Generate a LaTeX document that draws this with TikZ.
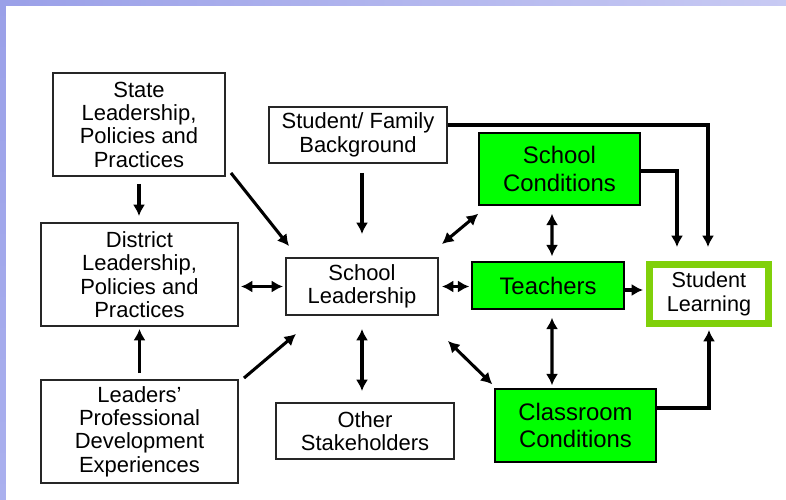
\documentclass[tikz,border=0pt]{standalone}
\usepackage{fontspec}
\setmainfont{Liberation Sans}
\usepackage{tikz}
\usetikzlibrary{arrows.meta,calc}

\definecolor{bandA}{RGB}{154,160,232}
\definecolor{bandB}{RGB}{200,202,243}
\definecolor{bandC}{RGB}{170,176,238}
\definecolor{boxgreen}{RGB}{0,255,0}
\definecolor{limeframe}{RGB}{128,208,10}

\tikzset{
  wbox/.style={draw=black!85, line width=1.1pt, fill=white, align=center, inner sep=0pt,
    font=\fontsize{12.5}{13.3}\selectfont},
  gbox/.style={draw=black, line width=0.8pt, fill=boxgreen, align=center, inner sep=0pt,
    font=\fontsize{13.6}{15.8}\selectfont},
  lbox/.style={draw=limeframe, line width=4pt, fill=white, align=center, inner sep=0pt,
    font=\fontsize{12.3}{13.9}\selectfont},
  link/.style={line width=1.75pt, black},
}

\begin{document}
\begin{tikzpicture}[scale=1.0, >={Latex[length=6.5pt,width=7pt]}]

  % 画布参数
  \def\W{15.72}
  \def\H{9.98}
  \def\band{0.12}
  \useasboundingbox (0,0) rectangle (\W,\H);

  % 边框色带
  \shade[left color=bandA, right color=bandB] (0,\H-\band) rectangle (\W,\H);
  \shade[top color=bandA, bottom color=bandC] (0,0) rectangle (\band,\H);

  % 左列
  \node[wbox, minimum width=3.44cm, minimum height=2.06cm] (state) at (2.78,7.49)
    {State\\Leadership,\\Policies and\\Practices};
  \node[wbox, minimum width=3.94cm, minimum height=2.06cm] (district) at (2.79,4.49)
    {District\\Leadership,\\Policies and\\Practices};
  \node[wbox, minimum width=3.94cm, minimum height=2.06cm] (leaders) at (2.79,1.35)
    {Leaders'\\Professional\\Development\\Experiences};

  % 中列
  \node[wbox, minimum width=3.56cm, minimum height=1.12cm] (family) at (7.16,7.28)
    {Student/ Family\\Background};
  \node[wbox, minimum width=3.04cm, minimum height=1.14cm] (lead) at (7.24,4.25)
    {School\\Leadership};
  \node[wbox, minimum width=3.56cm, minimum height=1.12cm] (other) at (7.30,1.36)
    {Other\\Stakeholders};

  % 绿色方框
  \node[gbox, minimum width=3.22cm, minimum height=1.44cm] (schcond) at (11.19,6.60)
    {School\\Conditions};
  \node[gbox, minimum width=3.04cm, minimum height=0.94cm] (teachers) at (10.96,4.27)
    {Teachers};
  \node[gbox, minimum width=3.22cm, minimum height=1.46cm] (classcond) at (11.51,1.47)
    {Classroom\\Conditions};

  % 结果
  \node[lbox, minimum width=2.38cm, minimum height=1.18cm] (learning) at (14.18,4.10)
    {Student\\Learning};

  % 左侧箭头
  \draw[link,->] ($(state.south east)+(0.1,0.08)$) -- ($(lead.north west)+(0.08,0.22)$);
  \draw[link,->, shorten <=0.14cm, shorten >=0.12cm] (state.south) -- (state.south |- district.north);
  \draw[link,->, shorten <=0.12cm, shorten >=0.04cm] (leaders.north) -- (leaders.north |- district.south);
  \draw[link,->] ($(leaders.north east)+(0.1,0.02)$) -- ($(lead.south west)+(0.22,-0.36)$);
  \draw[link,<->, shorten <=0.04cm, shorten >=0.04cm] (district.east |- lead.west) -- (lead.west);

  % 中间箭头
  \draw[link,->, shorten <=0.18cm, shorten >=0.46cm] (lead.north |- family.south) -- (lead.north);
  \draw[link,<->, shorten <=0.26cm, shorten >=0.22cm] (lead.south) -- (lead.south |- other.north);
  \draw[link,<->] ($(lead.north east)+(0.06,0.26)$) -- ($(schcond.south west)+(0,-0.16)$);
  \draw[link,<->] ($(lead.south east)+(0.18,-0.5)$) -- ($(classcond.north west)+(-0.04,0.08)$);
  \draw[link,<->, shorten <=0.06cm, shorten >=0.04cm] (lead.east) -- (lead.east -| teachers.west);

  % 绿色方框之间
  \draw[link,<->] ($(schcond.south)+(-0.15,-0.16)$) -- ($(teachers.north)+(0.08,0.1)$);
  \draw[link,<->] ($(teachers.south)+(0.08,-0.16)$) -- ($(classcond.north)+(-0.47,0.06)$);
  \draw[link,->, shorten >=0.06cm] ($(teachers.east)+(0,-0.09)$) -- ($(teachers.east -| learning.west)+(0,-0.09)$);

  % 到 Student Learning 的折线
  \draw[link,->] ($(family.east)+(0,0.2)$) -| ($(learning.north)+(-0.02,0.28)$);
  \draw[link,->] ($(schcond.east)+(0,-0.04)$) -| ($(learning.north)+(-0.64,0.28)$);
  \draw[link,->] ($(classcond.east)+(0,0.35)$) -| ($(learning.south)+(0,-0.06)$);

\end{tikzpicture}
\end{document}
